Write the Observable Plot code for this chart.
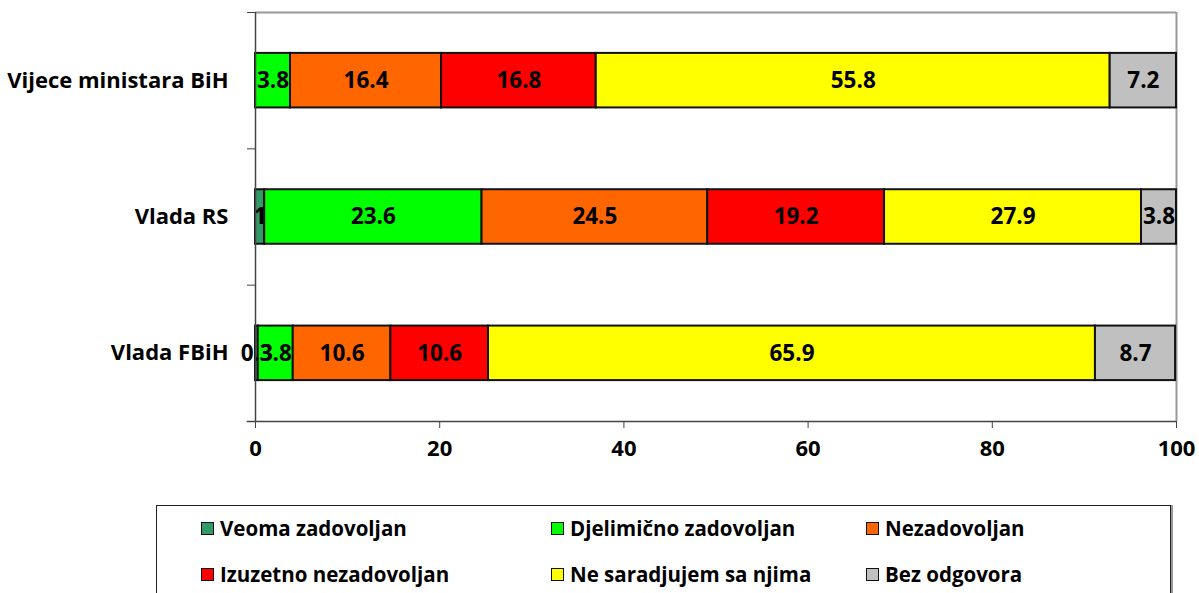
<!DOCTYPE html>
<html><head><meta charset="utf-8">
<script src="https://cdn.jsdelivr.net/npm/d3@7"></script>
<script src="https://cdn.jsdelivr.net/npm/@observablehq/plot@0.6"></script>
<style>
body{margin:0;background:#fff;font-family:"Open Sans",sans-serif;}
#legend{position:absolute;left:156px;top:505px;width:1015px;height:100px;border:1px solid #222;box-shadow:2px 0 0 #999;box-sizing:border-box;font-weight:bold;font-size:20.5px;}
.it{position:absolute;display:flex;align-items:center;white-space:nowrap;}
.sw{width:11px;height:11px;border:1.5px solid #111;margin-right:6px;}
</style></head><body>
<div id="chart"></div>
<div id="legend"></div>
<script>
const categories = ["Vijece ministara BiH", "Vlada RS", "Vlada FBiH"];
const series = ["Veoma zadovoljan", "Djelimično zadovoljan", "Nezadovoljan", "Izuzetno nezadovoljan", "Ne saradjujem sa njima", "Bez odgovora"];
const colors = ["#339966", "#00ff00", "#ff6600", "#ff0000", "#ffff00", "#c0c0c0"];
const vijeceValues = [0, 3.8, 16.4, 16.8, 55.8, 7.2];
const rsValues = [1, 23.6, 24.5, 19.2, 27.9, 3.8];
const fbihValues = [0.3, 3.8, 10.6, 10.6, 65.9, 8.7];
const xTicks = [0, 20, 40, 60, 80, 100];

const rows = [vijeceValues, rsValues, fbihValues];
const data = [];
rows.forEach((vals, i) => {
  let acc = 0;
  vals.forEach((v, j) => {
    data.push({cat: categories[i], series: series[j], value: v, x1: acc, x2: acc + v, yc: 2.5 - i});
    acc += v;
  });
});

const font = "'Open Sans', sans-serif";
const plot = Plot.plot({
  width: 1199, height: 490,
  marginLeft: 255, marginRight: 23, marginTop: 12, marginBottom: 69,
  style: {fontFamily: font, fontWeight: "bold", fontSize: "20px", color: "#000", background: "#fff"},
  x: {domain: [0, 100], label: null},
  y: {domain: [0, 3], label: null},
  color: {domain: series, range: colors},
  marks: [
    Plot.ruleY([3], {stroke: "#999", strokeWidth: 2}),
    Plot.ruleX([100], {stroke: "#999", strokeWidth: 2}),
    Plot.rect(data.filter(d => d.value > 0), {x1: "x1", x2: "x2", y1: d => d.yc - 0.2, y2: d => d.yc + 0.2, fill: "series", stroke: "#111", strokeWidth: 2}),
    Plot.text(data.filter(d => d.value > 0), {x: d => (d.x1 + d.x2) / 2, y: "yc", text: d => String(d.value), fontSize: 22.5, fontWeight: "bold", fill: "#000"}),
    Plot.ruleX([0], {stroke: "#444", strokeWidth: 1.5}),
    Plot.ruleY([0], {x1: -0.9, x2: 100, stroke: "#444", strokeWidth: 1.5}),
    Plot.axisY({ticks: [0, 1, 2, 3], tickSize: 8, tickFormat: () => "", stroke: "#444"}),
    Plot.axisY({ticks: [2.5, 1.5, 0.5], tickSize: 0, tickPadding: 27, tickFormat: d => categories[Math.round(2.5 - d)], fontSize: 22, fontWeight: "bold"}),
    Plot.axisX({ticks: xTicks, tickSize: 7, tickPadding: 12, fontSize: 22, fontWeight: "bold", stroke: "#444"})
  ]
});
document.getElementById("chart").appendChild(plot);

const lg = document.getElementById("legend");
const colX = [44, 394, 709], rowY = [23, 69];
series.forEach((s, j) => {
  const d = document.createElement("div");
  d.className = "it";
  d.style.left = colX[j % 3] + "px";
  d.style.top = (rowY[Math.floor(j / 3)] - 15) + "px";
  d.innerHTML = `<span class="sw" style="background:${colors[j]}"></span><span>${s}</span>`;
  lg.appendChild(d);
});
</script>
</body></html>
